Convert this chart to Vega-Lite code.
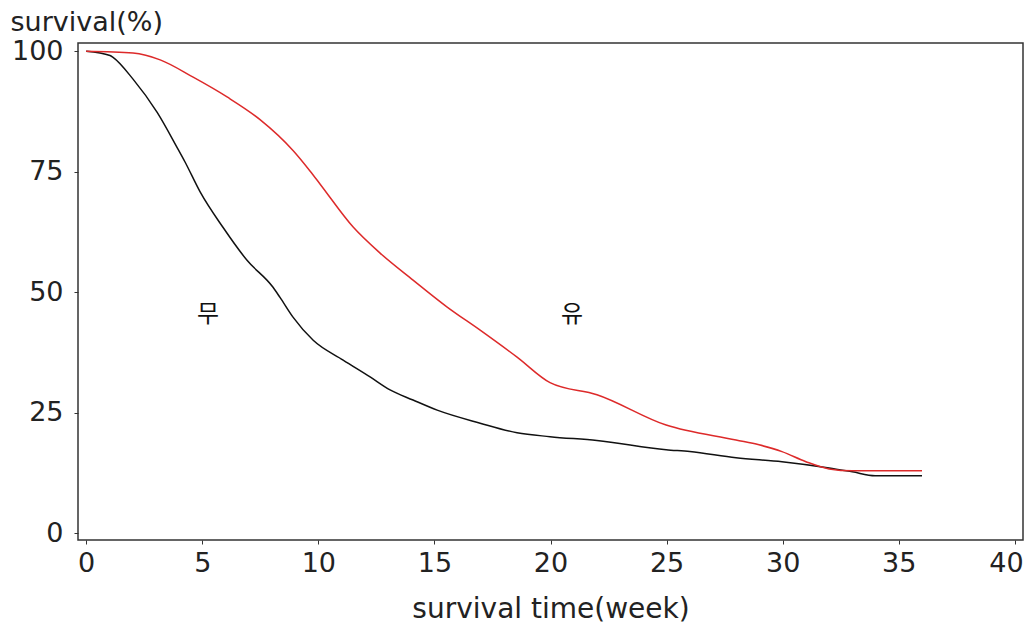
{
  "$schema": "https://vega.github.io/schema/vega-lite/v6.json",
  "width": 945,
  "height": 497,
  "autosize": {"type": "none"},
  "padding": {"left": 78, "top": 43, "right": 6, "bottom": 86},
  "background": "white",
  "config": {
    "view": {"stroke": "#333", "strokeWidth": 1.5},
    "font": "DejaVu Sans"
  },
  "datasets": {
    "curves": [
      {"group": "무", "time": 0, "survival": 100},
      {"group": "무", "time": 1.03, "survival": 99.1},
      {"group": "무", "time": 1.16, "survival": 98.7},
      {"group": "무", "time": 2.02, "survival": 94.2},
      {"group": "무", "time": 3.06, "survival": 87.3},
      {"group": "무", "time": 3.92, "survival": 80.0},
      {"group": "무", "time": 4.26, "survival": 77.0},
      {"group": "무", "time": 4.91, "survival": 70.8},
      {"group": "무", "time": 5.9, "survival": 63.4},
      {"group": "무", "time": 6.93, "survival": 56.6},
      {"group": "무", "time": 8.05, "survival": 51.0},
      {"group": "무", "time": 8.35, "survival": 48.9},
      {"group": "무", "time": 8.91, "survival": 44.8},
      {"group": "무", "time": 9.78, "survival": 40.0},
      {"group": "무", "time": 11.07, "survival": 35.9},
      {"group": "무", "time": 12.23, "survival": 32.4},
      {"group": "무", "time": 13.09, "survival": 29.7},
      {"group": "무", "time": 14.08, "survival": 27.6},
      {"group": "무", "time": 15.12, "survival": 25.5},
      {"group": "무", "time": 16.97, "survival": 22.8},
      {"group": "무", "time": 18.56, "survival": 20.8},
      {"group": "무", "time": 19.98, "survival": 20.0},
      {"group": "무", "time": 22.0, "survival": 19.2},
      {"group": "무", "time": 24.98, "survival": 17.3},
      {"group": "무", "time": 26.0, "survival": 16.9},
      {"group": "무", "time": 27.99, "survival": 15.6},
      {"group": "무", "time": 29.97, "survival": 14.8},
      {"group": "무", "time": 32.0, "survival": 13.5},
      {"group": "무", "time": 33.0, "survival": 12.7},
      {"group": "무", "time": 33.98, "survival": 11.9},
      {"group": "무", "time": 36.0, "survival": 11.9},
      {"group": "유", "time": 0, "survival": 100},
      {"group": "유", "time": 2.02, "survival": 99.6},
      {"group": "유", "time": 3.19, "survival": 98.2},
      {"group": "유", "time": 4.61, "survival": 94.6},
      {"group": "유", "time": 6.07, "survival": 90.5},
      {"group": "유", "time": 7.49, "survival": 85.8},
      {"group": "유", "time": 8.91, "survival": 79.4},
      {"group": "유", "time": 9.65, "survival": 75.1},
      {"group": "유", "time": 10.08, "survival": 72.4},
      {"group": "유", "time": 11.5, "survival": 63.5},
      {"group": "유", "time": 12.66, "survival": 58.1},
      {"group": "유", "time": 14.08, "survival": 52.5},
      {"group": "유", "time": 15.55, "survival": 46.9},
      {"group": "유", "time": 16.97, "survival": 42.1},
      {"group": "유", "time": 18.56, "survival": 36.5},
      {"group": "유", "time": 19.98, "survival": 31.2},
      {"group": "유", "time": 22.0, "survival": 28.7},
      {"group": "유", "time": 24.98, "survival": 22.4},
      {"group": "유", "time": 27.99, "survival": 19.3},
      {"group": "유", "time": 28.98, "survival": 18.3},
      {"group": "유", "time": 29.97, "survival": 16.9},
      {"group": "유", "time": 31.0, "survival": 14.8},
      {"group": "유", "time": 32.0, "survival": 13.3},
      {"group": "유", "time": 33.0, "survival": 12.9},
      {"group": "유", "time": 36.0, "survival": 12.9}
    ],
    "labels": [
      {"group": "무", "time": 5.25, "survival": 45.2},
      {"group": "유", "time": 20.93, "survival": 45.2}
    ]
  },
  "layer": [
    {
      "data": {"name": "curves"},
      "mark": {"type": "line", "strokeWidth": 1.5, "interpolate": "monotone"},
      "encoding": {
        "x": {
          "field": "time",
          "type": "quantitative",
          "scale": {"domain": [-0.35, 40.35], "nice": false, "zero": false},
          "axis": {
            "title": "survival time(week)",
            "values": [0, 5, 10, 15, 20, 25, 30, 35, 40],
            "grid": false,
            "domain": false,
            "tickSize": 4,
            "tickColor": "#333",
            "labelFontSize": 27,
            "labelColor": "#222",
            "labelPadding": 6,
            "labelOffset": {"condition": {"test": "datum.value == 40", "value": -9}, "value": 0},
            "labelFont": "DejaVu Sans",
            "titleFont": "DejaVu Sans",
            "titleFontSize": 28,
            "titleFontWeight": "normal",
            "titleColor": "#222",
            "titleBaseline": "alphabetic",
            "titleY": 77
          }
        },
        "y": {
          "field": "survival",
          "type": "quantitative",
          "scale": {"domain": [-1.45, 101.7], "nice": false, "zero": false},
          "axis": {
            "title": "survival(%)",
            "values": [0, 25, 50, 75, 100],
            "grid": false,
            "domain": false,
            "tickSize": 4,
            "tickColor": "#333",
            "labelFontSize": 27,
            "labelColor": "#222",
            "labelPadding": 11,
            "labelFont": "DejaVu Sans",
            "titleFont": "DejaVu Sans",
            "titleFontSize": 27,
            "titleFontWeight": "normal",
            "titleColor": "#222",
            "titleAngle": 0,
            "titleAlign": "left",
            "titleBaseline": "alphabetic",
            "titleX": -68,
            "titleY": -13
          }
        },
        "color": {
          "field": "group",
          "type": "nominal",
          "scale": {"domain": ["무", "유"], "range": ["#111111", "#dd2a2a"]},
          "legend": null
        }
      }
    },
    {
      "data": {"name": "labels"},
      "mark": {"type": "text", "fontSize": 24, "font": "Noto Sans CJK KR", "color": "#111", "align": "center", "baseline": "middle"},
      "encoding": {
        "x": {"field": "time", "type": "quantitative"},
        "y": {"field": "survival", "type": "quantitative"},
        "text": {"field": "group"}
      }
    }
  ]
}
